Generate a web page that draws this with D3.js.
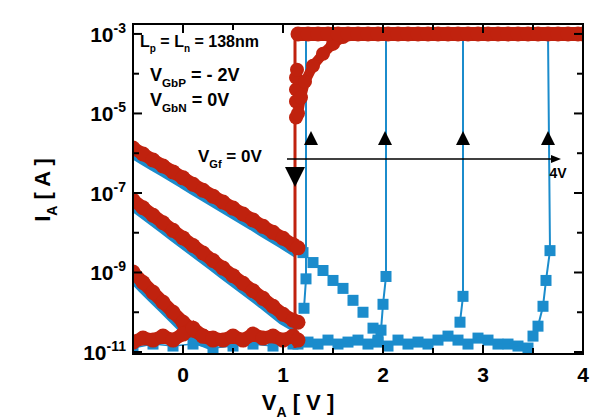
<!DOCTYPE html>
<html><head><meta charset="utf-8">
<script src="https://cdn.jsdelivr.net/npm/d3@7"></script>
<style>body{margin:0;background:#fff}text{font-family:Arial,"Liberation Sans",sans-serif;font-weight:bold}</style>
</head><body><svg id="c" width="596" height="419"></svg>
<script>
// values are log10(I_A)
var xSub = [-0.5,-0.4,-0.3,-0.2,-0.1,0,0.1,0.2,0.3,0.4,0.5,0.6,0.7,0.8,0.9,1.0,1.1,1.15];
var redA = [-5.87,-6.02,-6.17,-6.32,-6.47,-6.62,-6.78,-6.93,-7.08,-7.23,-7.38,-7.53,-7.68,-7.84,-7.99,-8.14,-8.3,-8.38];
var redB = [-7.18,-7.37,-7.56,-7.75,-7.94,-8.13,-8.32,-8.51,-8.7,-8.89,-9.08,-9.27,-9.46,-9.65,-9.85,-10.05,-10.2,-10.25];
var xC = [-0.5,-0.4,-0.3,-0.2,-0.1,0,0.1,0.2,0.3];
var redC = [-8.99,-9.25,-9.5,-9.75,-10.0,-10.25,-10.45,-10.6,-10.7];
var redFloor = [-10.75,-10.65,-10.7,-10.6,-10.7,-10.55,-10.4,-10.6,-10.65,-10.7,-10.6,-10.7,-10.55,-10.65,-10.6,-10.7,-10.6,-10.7];
var xRamp = [1.13,1.13,1.13,1.13,1.14,1.15,1.18,1.22,1.3,1.4,1.5,1.6,1.7];
var redRamp = [-5.1,-4.7,-4.4,-4.1,-3.9,-5.0,-4.6,-4.2,-3.8,-3.5,-3.25,-3.08,-3.0];
var xTop = [1.15,1.25,1.35,1.45,1.55,1.65,1.75,1.85,1.95,2.05,2.15,2.25,2.35,2.45,2.55,2.65,2.75,2.85,2.95,3.05,3.15,3.25,3.35,3.45,3.55,3.65,3.75,3.85,3.95,4.0];
var redVert = {x:1.12, from:-10.9, to:-3.0};
var blueVerts = [1.23, 2.03, 2.8, 3.65];
var xBlueSub = [1.15,1.2,1.3,1.4,1.5,1.6,1.7,1.8,1.9,1.95];
var blueSub = [-8.4,-8.5,-8.75,-8.95,-9.2,-9.4,-9.7,-10.0,-10.4,-10.7];
var blueRise = [[[1.23,-9.16],[1.21,-9.9]],[[2.03,-9.1],[2.0,-9.8],[1.98,-10.45]],[[2.8,-9.6],[2.77,-10.25]],[[3.67,-8.45],[3.63,-9.2],[3.6,-9.85],[3.55,-10.35],[3.5,-10.6]]];
var xBlueFloor = [-0.5,-0.3,-0.1,0.1,0.3,0.5,0.7,0.9,1.1,1.15,1.25,1.35,1.45,1.55,1.65,1.75,1.85,1.95,2.05,2.15,2.25,2.35,2.45,2.55,2.65,2.75,2.85,2.95,3.05,3.15,3.25,3.35,3.45];
var blueFloor = [-10.9,-10.8,-10.85,-10.8,-10.9,-10.85,-10.8,-10.85,-10.8,-10.8,-10.75,-10.8,-10.7,-10.8,-10.75,-10.7,-10.8,-10.75,-10.85,-10.7,-10.8,-10.75,-10.8,-10.7,-10.6,-10.7,-10.8,-10.65,-10.7,-10.8,-10.8,-10.85,-10.9];
var upArrows = [1.28, 2.02, 2.8, 3.65];
var yTicks = [-11,-9,-7,-5,-3];
var xTicks = [0,1,2,3,4];

var red = '#c0220e', blue = '#1b8ccc';
var svg = d3.select('#c');
var x = d3.scaleLinear().domain([-0.5,4]).range([133,583]);
var y = d3.scaleLog().domain([Math.pow(10,-11.05),Math.pow(10,-2.75)]).range([354,24]);
var Y = function(e){return y(Math.pow(10,e));};
var line = d3.line().x(function(d){return x(d[0]);}).y(function(d){return Y(d[1]);});
var zip = function(a,b){return a.map(function(v,i){return [v,b[i]];});};

var g = svg.append('g');
g.append('clipPath').attr('id','cl').append('rect').attr('x',133).attr('y',24).attr('width',450).attr('height',330);
var p = g.append('g').attr('clip-path','url(#cl)');

function squares(pts){
  p.selectAll(null).data(pts).enter().append('rect')
    .attr('x',function(d){return x(d[0])-5.5;}).attr('y',function(d){return Y(d[1])-5.5;})
    .attr('width',11).attr('height',11).attr('fill',blue);
}
function circles(pts,r){
  p.selectAll(null).data(pts).enter().append('circle')
    .attr('cx',function(d){return x(d[0]);}).attr('cy',function(d){return Y(d[1]);})
    .attr('r',r).attr('fill',red);
}
// blue
[[xSub,redA],[xSub,redB],[xC,redC]].forEach(function(s){
  var pts = zip(s[0],s[1]).map(function(d){return [d[0],d[1]-0.12];});
  p.append('path').attr('d',line(pts)).attr('stroke',blue).attr('stroke-width',12).attr('fill','none');
});
squares(zip(xBlueFloor,blueFloor));
p.append('path').attr('d',line(zip(xBlueFloor,blueFloor))).attr('stroke',blue).attr('stroke-width',1.5).attr('fill','none');
squares(zip(xBlueSub,blueSub));
blueVerts.forEach(function(v,i){
  var pts = [[v,-3]].concat(blueRise[i]);
  p.append('path').attr('d',line(pts)).attr('stroke',blue).attr('stroke-width',2).attr('fill','none');
  squares(blueRise[i]);
});
p.append('path').attr('d',line([[1.23,-3],[4,-3]])).attr('stroke',blue).attr('stroke-width',4);
// red
[[xSub,redA],[xSub,redB],[xC,redC],[xSub,redFloor]].forEach(function(s){
  var pts = zip(s[0],s[1]);
  p.append('path').attr('d',line(pts)).attr('stroke',red).attr('stroke-width',13).attr('fill','none').attr('stroke-linecap','round');
  circles(pts,7.5);
});
p.append('path').attr('d',line([[redVert.x,redVert.from],[redVert.x,redVert.to]])).attr('stroke',red).attr('stroke-width',3);
var ramp = zip(xRamp,redRamp);
p.append('path').attr('d',line(ramp.slice(5))).attr('stroke',red).attr('stroke-width',10).attr('fill','none');
circles(ramp,7);
var topPts = xTop.map(function(v){return [v,-3];});
p.append('path').attr('d',line(topPts)).attr('stroke',red).attr('stroke-width',14);
circles(topPts,7.5);

// axes frame and ticks
g.append('rect').attr('x',133).attr('y',24).attr('width',450).attr('height',330).attr('fill','none').attr('stroke','#000').attr('stroke-width',2);
var ax = g.append('g');
d3.range(-11,-2).forEach(function(e){
  var L = e%2 ? 9 : 6;
  ax.append('line').attr('x1',133).attr('x2',133+L).attr('y1',Y(e)).attr('y2',Y(e)).attr('stroke','#000').attr('stroke-width',2);
  ax.append('line').attr('x1',583).attr('x2',583-L).attr('y1',Y(e)).attr('y2',Y(e)).attr('stroke','#000').attr('stroke-width',2);
});
d3.range(-0.5,4.01,0.5).forEach(function(v){
  var L = Number.isInteger(v) ? 9 : 6;
  ax.append('line').attr('x1',x(v)).attr('x2',x(v)).attr('y1',354).attr('y2',354-L).attr('stroke','#000').attr('stroke-width',2);
  ax.append('line').attr('x1',x(v)).attr('x2',x(v)).attr('y1',24).attr('y2',24+L).attr('stroke','#000').attr('stroke-width',2);
});
yTicks.forEach(function(e){
  var t = ax.append('text').attr('x',126).attr('y',Y(e)+8).attr('text-anchor','end').attr('font-size',21);
  t.append('tspan').text('10');
  t.append('tspan').attr('dy',-9).attr('font-size',14).text(e);
});
xTicks.forEach(function(v){
  ax.append('text').attr('x',x(v)).attr('y',382).attr('text-anchor','middle').attr('font-size',21).text(v);
});
var xl = ax.append('text').attr('x',298).attr('y',410).attr('text-anchor','middle').attr('font-size',22);
xl.append('tspan').text('V');
xl.append('tspan').attr('dy',7).attr('font-size',14).text('A');
xl.append('tspan').attr('dy',-7).text(' [ V ]');
var yl = ax.append('text').attr('transform','translate(50,190) rotate(-90)').attr('text-anchor','middle').attr('font-size',22);
yl.append('tspan').text('I');
yl.append('tspan').attr('dy',7).attr('font-size',14).text('A');
yl.append('tspan').attr('dy',-7).text(' [ A ]');

// annotations
function sub(xp,yp,a,s,b,fs){
  var t = g.append('text').attr('x',xp).attr('y',yp).attr('font-size',fs);
  t.append('tspan').text(a);
  t.append('tspan').attr('dy',6).attr('font-size',fs*0.65).text(s);
  t.append('tspan').attr('dy',-6).text(b);
  return t;
}
var t1 = g.append('text').attr('x',140).attr('y',47).attr('font-size',16);
t1.append('tspan').text('L');t1.append('tspan').attr('dy',5).attr('font-size',10).text('p');
t1.append('tspan').attr('dy',-5).text(' = L');t1.append('tspan').attr('dy',5).attr('font-size',10).text('n');
t1.append('tspan').attr('dy',-5).text(' = 138nm');
sub(150,81,'V','GbP',' = - 2V',18);
sub(150,106,'V','GbN',' =   0V',18);
sub(198,162,'V','Gf',' = 0V',17);
g.append('line').attr('x1',x(1.04)).attr('x2',x(3.72)).attr('y1',159).attr('y2',159).attr('stroke','#000').attr('stroke-width',1.5);
g.append('path').attr('d','M'+x(3.78)+',159 l-10,-4 l0,8 z').attr('fill','#000');
g.append('text').attr('x',x(3.75)).attr('y',178).attr('text-anchor','middle').attr('font-size',14).text('4V');
upArrows.forEach(function(v){
  g.append('path').attr('d','M'+x(v)+',131 l-7,14 l14,0 z').attr('fill','#000');
});
g.append('path').attr('d','M'+(x(1.12)-10)+',167 l20,0 l-10,20 z').attr('fill','#000');
</script></body></html>
